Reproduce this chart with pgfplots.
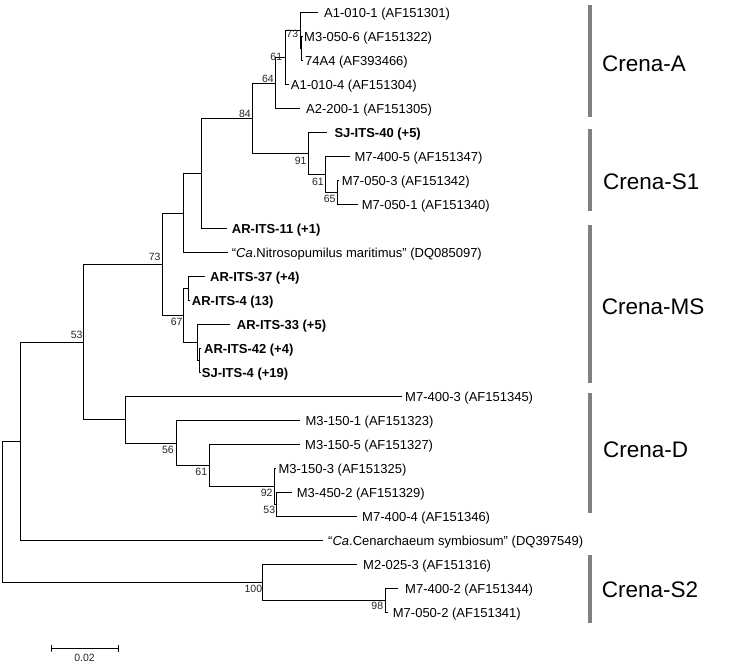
\documentclass[border=0pt]{standalone}
\usepackage{fontspec}
\setmainfont{Liberation Sans}
\usepackage{pgfplots}
\pgfplotsset{compat=1.18}
\tikzset{
  br/.style={black, solid, line width=1pt},
  cbar/.style={black!50, solid, line width=4pt},
  leaf/.style={anchor=base west, inner sep=0pt, font=\fontsize{13}{15}\selectfont},
  leafb/.style={anchor=base west, inner sep=0pt, font=\fontsize{13}{15}\selectfont\bfseries},
  boot/.style={anchor=east, inner sep=0pt, text=black!85, font=\fontsize{10.5}{12}\selectfont},
  clade/.style={anchor=west, inner sep=0pt, font=\fontsize{22.5}{26}\selectfont},
}
\begin{document}
\begin{tikzpicture}
\begin{axis}[
  width=731pt, height=670pt, scale only axis,
  xmin=0, xmax=731, ymin=0, ymax=670, y dir=reverse,
  hide axis, clip=false,
]
\path (axis cs:0,0) rectangle (axis cs:731,670);
% tree branches
\addplot[br] coordinates {(318,12.7) (300,12.7) (300,48.7) (301.3,48.7)};
\addplot[br] coordinates {(302.5,36.7) (301.3,36.7) (301.3,60.7) (302.5,60.7)};
\addplot[br] coordinates {(300,30.7) (285,30.7) (285,84.7) (289,84.7)};
\addplot[br] coordinates {(285,57.7) (275,57.7) (275,108.7) (300,108.7)};
\addplot[br] coordinates {(339,180.7) (337.3,180.7) (337.3,204.7) (358,204.7)};
\addplot[br] coordinates {(350,156.7) (325.5,156.7) (325.5,192.7) (337.3,192.7)};
\addplot[br] coordinates {(326.7,132.7) (308.3,132.7) (308.3,174.7) (325.5,174.7)};
\addplot[br] coordinates {(275,83.2) (252.7,83.2) (252.7,153.7) (308.3,153.7)};
\addplot[br] coordinates {(252.7,118.45) (201.7,118.45) (201.7,228.7) (226.7,228.7)};
\addplot[br] coordinates {(201.7,173.6) (183.3,173.6) (183.3,252.7) (228.3,252.7)};
\addplot[br] coordinates {(205,276.7) (188.3,276.7) (188.3,300.7) (190,300.7)};
\addplot[br] coordinates {(201,348.7) (199.3,348.7) (199.3,372.7) (200.5,372.7)};
\addplot[br] coordinates {(230,324.7) (197.3,324.7) (197.3,360.7) (199.3,360.7)};
\addplot[br] coordinates {(188.3,288.7) (183.3,288.7) (183.3,342.7) (197.3,342.7)};
\addplot[br] coordinates {(183.3,213.1) (162.3,213.1) (162.3,315.7) (183.3,315.7)};
\addplot[br] coordinates {(291.7,492.7) (276.7,492.7) (276.7,516.7) (356.7,516.7)};
\addplot[br] coordinates {(275.5,468.7) (274,468.7) (274,504.7) (276.7,504.7)};
\addplot[br] coordinates {(300,444.7) (209.3,444.7) (209.3,486.7) (274,486.7)};
\addplot[br] coordinates {(300,420.7) (176,420.7) (176,465.7) (209.3,465.7)};
\addplot[br] coordinates {(401.7,396.7) (125,396.7) (125,443.2) (176,443.2)};
\addplot[br] coordinates {(162.3,264.4) (83.3,264.4) (83.3,419.95) (125,419.95)};
\addplot[br] coordinates {(83.3,342.2) (20.7,342.2) (20.7,540.7) (323.3,540.7)};
\addplot[br] coordinates {(398.3,588.7) (385.7,588.7) (385.7,612.7) (388,612.7)};
\addplot[br] coordinates {(356.7,564.7) (262.7,564.7) (262.7,600.7) (385.7,600.7)};
\addplot[br] coordinates {(20.7,441.4) (2.7,441.4) (2.7,582.7) (262.7,582.7)};
% scale bar
\addplot[br, line width=0.9pt] coordinates {(51.7,645) (51.7,651.7) (51.7,648.3) (118.3,648.3) (118.3,645) (118.3,651.7)};
% clade bars
\addplot[cbar] coordinates {(590,5) (590,117)};
\addplot[cbar] coordinates {(590,129.3) (590,210.7)};
\addplot[cbar] coordinates {(590,225) (590,383.3)};
\addplot[cbar] coordinates {(590,393.3) (590,513.3)};
\addplot[cbar] coordinates {(590,555) (590,622.7)};
% leaf labels
\node[leaf] at (axis cs:324,17.7) {A1-010-1 (AF151301)};
\node[leaf] at (axis cs:304,41.7) {M3-050-6 (AF151322)};
\node[leaf] at (axis cs:305,65.7) {74A4 (AF393466)};
\node[leaf] at (axis cs:290.7,89.7) {A1-010-4 (AF151304)};
\node[leaf] at (axis cs:306,113.7) {A2-200-1 (AF151305)};
\node[leafb] at (axis cs:334.3,137.7) {SJ-ITS-40 (+5)};
\node[leaf] at (axis cs:354.3,161.7) {M7-400-5 (AF151347)};
\node[leaf] at (axis cs:341.7,185.7) {M7-050-3 (AF151342)};
\node[leaf] at (axis cs:361.7,209.7) {M7-050-1 (AF151340)};
\node[leafb] at (axis cs:231.7,233.7) {AR-ITS-11 (+1)};
\node[leaf] at (axis cs:231.7,257.7) {“\textit{Ca}.Nitrosopumilus maritimus” (DQ085097)};
\node[leafb] at (axis cs:210,281.7) {AR-ITS-37 (+4)};
\node[leafb] at (axis cs:191.7,305.7) {AR-ITS-4 (13)};
\node[leafb] at (axis cs:236.7,329.7) {AR-ITS-33 (+5)};
\node[leafb] at (axis cs:204,353.7) {AR-ITS-42 (+4)};
\node[leafb] at (axis cs:201.7,377.7) {SJ-ITS-4 (+19)};
\node[leaf] at (axis cs:405,401.7) {M7-400-3 (AF151345)};
\node[leaf] at (axis cs:305.3,425.7) {M3-150-1 (AF151323)};
\node[leaf] at (axis cs:305,449.7) {M3-150-5 (AF151327)};
\node[leaf] at (axis cs:278.3,473.7) {M3-150-3 (AF151325)};
\node[leaf] at (axis cs:296.7,497.7) {M3-450-2 (AF151329)};
\node[leaf] at (axis cs:362,521.7) {M7-400-4 (AF151346)};
\node[leaf] at (axis cs:328,545.7) {“\textit{Ca}.Cenarchaeum symbiosum” (DQ397549)};
\node[leaf] at (axis cs:363,569.7) {M2-025-3 (AF151316)};
\node[leaf] at (axis cs:405,593.7) {M7-400-2 (AF151344)};
\node[leaf] at (axis cs:392.7,617.7) {M7-050-2 (AF151341)};
% bootstrap values
\node[boot] at (axis cs:298.3,34.3) {73};
\node[boot] at (axis cs:282.3,57) {61};
\node[boot] at (axis cs:274,78.7) {64};
\node[boot] at (axis cs:251,113.7) {84};
\node[boot] at (axis cs:306.7,161.2) {91};
\node[boot] at (axis cs:324,181.7) {61};
\node[boot] at (axis cs:335.7,198.7) {65};
\node[boot] at (axis cs:160.7,256.7) {73};
\node[boot] at (axis cs:182.7,322.2) {67};
\node[boot] at (axis cs:82.7,334.5) {53};
\node[boot] at (axis cs:174,450.3) {56};
\node[boot] at (axis cs:207.3,472.2) {61};
\node[boot] at (axis cs:272.7,493) {92};
\node[boot] at (axis cs:275.3,510.3) {53};
\node[boot] at (axis cs:262.3,588.8) {100};
\node[boot] at (axis cs:383.3,606.3) {98};
\node[boot, anchor=center] at (axis cs:84.5,657.8) {0.02};
% clade names
\node[clade] at (axis cs:602,63.3) {Crena-A};
\node[clade] at (axis cs:603,181.7) {Crena-S1};
\node[clade] at (axis cs:601.7,306.7) {Crena-MS};
\node[clade] at (axis cs:603,450) {Crena-D};
\node[clade] at (axis cs:601.7,590) {Crena-S2};
\end{axis}
\end{tikzpicture}
\end{document}
